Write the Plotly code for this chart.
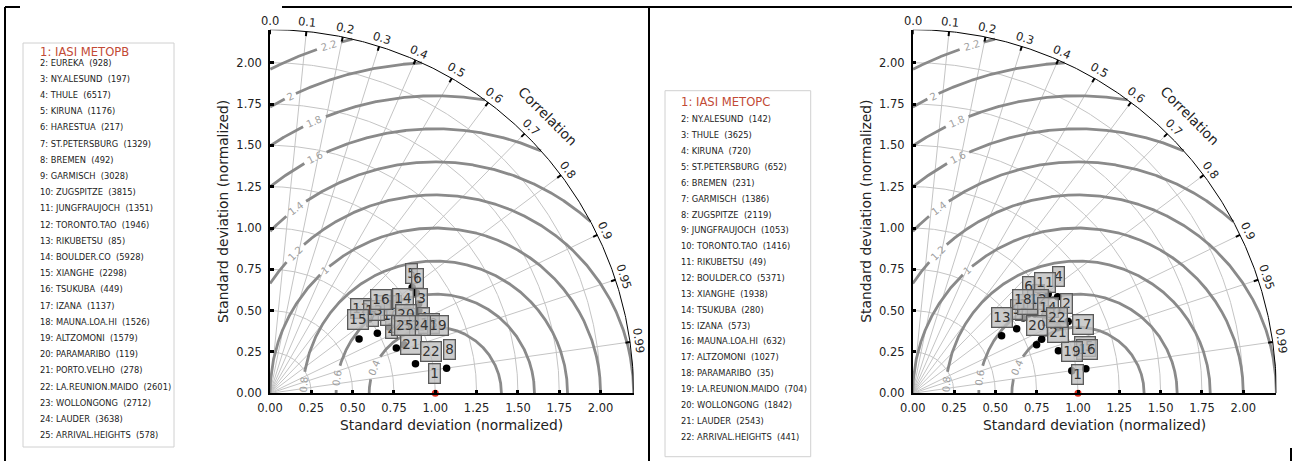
import numpy as np
import plotly.graph_objects as go

W, H = 1292, 461

# ---------------- data ----------------
left_title = "1: IASI METOPB"
left_names = ["EUREKA", "NY.ALESUND", "THULE", "KIRUNA", "HARESTUA", "ST.PETERSBURG", "BREMEN",
              "GARMISCH", "ZUGSPITZE", "JUNGFRAUJOCH", "TORONTO.TAO", "RIKUBETSU", "BOULDER.CO",
              "XIANGHE", "TSUKUBA", "IZANA", "MAUNA.LOA.HI", "ALTZOMONI", "PARAMARIBO",
              "PORTO.VELHO", "LA.REUNION.MAIDO", "WOLLONGONG", "LAUDER", "ARRIVAL.HEIGHTS"]
left_counts = [928, 197, 6517, 1176, 217, 1329, 492, 3028, 3815, 1351, 1946, 85, 5928, 2298,
               449, 1137, 1526, 1579, 119, 278, 2601, 2712, 3638, 578]
# normalized std and correlation, entry 0 = reference (1)
left_std = [1.0, 0.812, 1.050, 0.989, 1.072, 1.073, 0.744, 1.079, 0.893, 0.902, 0.880, 0.750,
            0.797, 0.979, 0.631, 0.844, 1.030, 1.047, 1.053, 0.918, 0.861, 0.898, 0.824, 1.003, 0.877]
left_corr = [1.0, 0.941, 0.857, 0.880, 0.802, 0.825, 0.873, 0.990, 0.829, 0.854, 0.807, 0.800,
             0.778, 0.847, 0.854, 0.806, 0.874, 0.907, 0.927, 0.872, 0.940, 0.980, 0.874, 0.917, 0.890]
# label box placement (offset from the marker, data units)
left_lab_dx = [-0.005, -0.03, 0.019, 0.06, -0.005, 0.009, -0.03, 0.017, 0.02, -0.04, -0.01, -0.047,
               0.01, -0.026, -0.006, -0.006, -0.08, 0.01, 0.039, 0.025, 0.045, 0.095, 0.08, -0.015, 0.034]
left_lab_dy = [0.117, 0.118, 0.031, -0.01, 0.087, 0.091, 0.10, 0.113, 0.03, 0.0, 0.01, 0.065,
               0.0, 0.051, 0.119, 0.065, -0.05, -0.02, 0.014, 0.025, 0.0, 0.074, 0.01, 0.008, 0.008]

right_title = "1: IASI METOPC"
right_names = ["NY.ALESUND", "THULE", "KIRUNA", "ST.PETERSBURG", "BREMEN", "GARMISCH", "ZUGSPITZE",
               "JUNGFRAUJOCH", "TORONTO.TAO", "RIKUBETSU", "BOULDER.CO", "XIANGHE", "TSUKUBA",
               "IZANA", "MAUNA.LOA.HI", "ALTZOMONI", "PARAMARIBO", "LA.REUNION.MAIDO",
               "WOLLONGONG", "LAUDER", "ARRIVAL.HEIGHTS"]
right_counts = [142, 3625, 720, 652, 231, 1386, 2119, 1053, 1416, 49, 5371, 1938, 280, 573, 632,
                1027, 35, 704, 1842, 2543, 441]
right_std = [1.0, 1.030, 0.954, 1.054, 0.882, 0.925, 0.809, 0.935, 0.740, 0.849, 1.016, 0.904,
             0.641, 0.928, 0.972, 1.058, 1.036, 0.867, 0.918, 0.805, 0.846, 0.967]
right_corr = [1.0, 0.874, 0.817, 0.832, 0.839, 0.779, 0.827, 0.888, 0.850, 0.825, 0.807, 0.818,
              0.839, 0.862, 0.990, 0.990, 0.908, 0.813, 0.960, 0.931, 0.922, 0.910]
right_lab_dx = [-0.004, 0.032, -0.02, 0.004, -0.02, -0.02, -0.009, -0.01, 0.0, 0.0, -0.02, 0.02,
                0.004, 0.02, 0.078, 0.005, 0.091, -0.036, 0.081, 0.0, 0.101, -0.005]
right_lab_dy = [0.111, 0.041, 0.05, 0.122, 0.05, 0.066, 0.045, 0.04, 0.115, 0.06, 0.07, 0.045,
                0.112, 0.051, 0.143, 0.115, -0.02, 0.065, -0.006, 0.115, 0.04, 0.055]

corr_ticks = [0.0, 0.1, 0.2, 0.3, 0.4, 0.5, 0.6, 0.7, 0.8, 0.9, 0.95, 0.99]
corr_tick_text = ["0.0", "0.1", "0.2", "0.3", "0.4", "0.5", "0.6", "0.7", "0.8", "0.9", "0.95", "0.99"]
std_ticks = [0.0, 0.25, 0.5, 0.75, 1.0, 1.25, 1.5, 1.75, 2.0]
std_tick_text = ["0.00", "0.25", "0.50", "0.75", "1.00", "1.25", "1.50", "1.75", "2.00"]
rmsd_levels = [0.4, 0.6, 0.8, 1.0, 1.2, 1.4, 1.6, 1.8, 2.0, 2.2]
rmsd_text = ["0.4", "0.6", "0.8", "1", "1.2", "1.4", "1.6", "1.8", "2", "2.2"]
rmsd_label_theta = [157, 171, 176, 132, 135, 127, 117, 114, 116, 107]  # label placement (deg about ref)

# ---------------- layout constants ----------------
RMAX = 2.2
SC = 165.3          # px per unit
Y0 = 393.3          # pixel row of origin
FONT = "DejaVu Sans"

fig = go.Figure()
annotations = []
shapes = []

def px(x):
    return x / W

def py(y):
    return 1 - y / H


def add_panel(sfx, x0, std, corr, ldx, ldy):
    xa = "x" + sfx
    ya = "y" + sfx

    def to_paper(dx, dy):
        return px(x0 + dx * SC), py(Y0 - dy * SC)

    std = np.asarray(std, float)
    corr = np.asarray(corr, float)
    # thin std-dev circles and radial correlation lines
    gx, gy = [], []
    phi = np.linspace(0, np.pi / 2, 300)
    for r in std_ticks[1:]:
        gx += list(r * np.cos(phi)) + [None]
        gy += list(r * np.sin(phi)) + [None]
    for c in corr_ticks[1:]:
        a = np.arccos(c)
        gx += [0, RMAX * np.cos(a), None]
        gy += [0, RMAX * np.sin(a), None]
    fig.add_trace(go.Scatter(x=gx, y=gy, mode="lines", line=dict(color="#c4c4c4", width=1),
                             xaxis=xa, yaxis=ya, hoverinfo="skip", showlegend=False))
    # RMSD contours
    rx, ry = [], []
    fs_r = 10
    for r, t, th_lab in zip(rmsd_levels, rmsd_text, rmsd_label_theta):
        th = np.linspace(0, np.pi, 3000)
        x = 1 + r * np.cos(th)
        y = r * np.sin(th)
        wpx = len(t) * 0.62 * fs_r
        gap = (wpx / 2 + 3) / (SC * r)
        ok = (x >= 0) & (x ** 2 + y ** 2 <= RMAX ** 2) & (np.abs(th - np.radians(th_lab)) > gap)
        prev = False
        for xi, yi, k in zip(x, y, ok):
            if k:
                rx.append(xi); ry.append(yi)
            elif prev:
                rx.append(None); ry.append(None)
            prev = k
        rx.append(None); ry.append(None)
        tl = np.radians(th_lab)
        ax_, ay_ = to_paper(1 + r * np.cos(tl), r * np.sin(tl))
        annotations.append(dict(x=ax_, y=ay_, xref="paper", yref="paper",
                                text=t, showarrow=False, textangle=-(th_lab - 90),
                                font=dict(family=FONT, size=fs_r, color="#a0a0a0"),
                                xanchor="center", yanchor="middle"))
    fig.add_trace(go.Scatter(x=rx, y=ry, mode="lines", line=dict(color="#8a8a8a", width=2.8),
                             xaxis=xa, yaxis=ya, hoverinfo="skip", showlegend=False))
    # outer arc and correlation ticks
    ox = list(RMAX * np.cos(phi))
    oy = list(RMAX * np.sin(phi))
    fig.add_trace(go.Scatter(x=ox, y=oy, mode="lines", line=dict(color="black", width=1),
                             xaxis=xa, yaxis=ya, hoverinfo="skip", showlegend=False))
    tx, ty = [], []
    for c, lab in zip(corr_ticks, corr_tick_text):
        a = np.arccos(c)
        tx += [RMAX * np.cos(a), (RMAX - 0.028) * np.cos(a), None]
        ty += [RMAX * np.sin(a), (RMAX - 0.028) * np.sin(a), None]
        rl = RMAX + 0.055
        ax_, ay_ = to_paper(rl * np.cos(a), rl * np.sin(a))
        annotations.append(dict(x=ax_, y=ay_, xref="paper", yref="paper", text=lab,
                                showarrow=False, textangle=90 - np.degrees(a),
                                font=dict(family=FONT, size=11.5, color="#222"),
                                xanchor="center", yanchor="middle"))
    fig.add_trace(go.Scatter(x=tx, y=ty, mode="lines", line=dict(color="black", width=2),
                             xaxis=xa, yaxis=ya, hoverinfo="skip", showlegend=False))
    ax_, ay_ = to_paper(2.375 * np.cos(np.pi / 4), 2.375 * np.sin(np.pi / 4))
    annotations.append(dict(x=ax_, y=ay_, xref="paper", yref="paper",
                            text="Correlation", showarrow=False, textangle=45,
                            font=dict(family=FONT, size=13.8, color="#222"),
                            xanchor="center", yanchor="middle"))
    # data markers
    xs = std * corr
    ys = std * np.sqrt(np.clip(1 - corr ** 2, 0, None))
    fig.add_trace(go.Scatter(x=xs[1:], y=ys[1:], mode="markers", cliponaxis=False,
                             marker=dict(color="black", size=7.5), xaxis=xa, yaxis=ya,
                             hoverinfo="skip", showlegend=False))
    fig.add_trace(go.Scatter(x=xs[:1], y=ys[:1], mode="markers", cliponaxis=False,
                             marker=dict(color="#e03020", size=7), xaxis=xa, yaxis=ya,
                             hoverinfo="skip", showlegend=False))
    for i in range(len(std)):
        annotations.append(dict(x=xs[i] + ldx[i], y=ys[i] + ldy[i], xref=xa, yref=ya,
                                text=str(i + 1), showarrow=False,
                                font=dict(family=FONT, size=13.5, color="#333"),
                                bgcolor="rgba(190,190,190,0.78)", bordercolor="#5a5a5a",
                                borderwidth=1.3, borderpad=1, xanchor="center", yanchor="middle"))
    # axis titles
    annotations.append(dict(x=px(x0 + SC * 1.1), y=py(425), xref="paper", yref="paper",
                            text="Standard deviation (normalized)", showarrow=False,
                            font=dict(family=FONT, size=13.8, color="#222"),
                            xanchor="center", yanchor="middle"))
    annotations.append(dict(x=px(x0 - 46.5), y=py(Y0 - SC * 1.1), xref="paper", yref="paper",
                            text="Standard deviation (normalized)", showarrow=False, textangle=-90,
                            font=dict(family=FONT, size=13.8, color="#222"),
                            xanchor="center", yanchor="middle"))
    axis_common = dict(range=[0, RMAX], showgrid=False, zeroline=False, showline=True,
                       linecolor="black", linewidth=1.5, ticks="inside", ticklen=4, tickwidth=2.5,
                       tickcolor="black", tickvals=std_ticks, ticktext=std_tick_text,
                       tickfont=dict(family=FONT, size=11.5, color="#222"), automargin=False,
                       fixedrange=True)
    fig.layout["xaxis" + sfx] = dict(axis_common, domain=[px(x0), px(x0 + RMAX * SC)],
                                     anchor="y" + sfx, ticklabelstandoff=3)
    fig.layout["yaxis" + sfx] = dict(axis_common, domain=[py(Y0), py(Y0 - RMAX * SC)],
                                     anchor="x" + sfx, ticklabelstandoff=4)


def add_legend(box, title, names, counts, title_y, y_first, step, text_x):
    x0, y0, x1, y1 = box
    shapes.append(dict(type="rect", xref="paper", yref="paper", x0=px(x0), x1=px(x1),
                       y0=py(y1), y1=py(y0), line=dict(color="#d0d0d0", width=1),
                       fillcolor="white", layer="below"))
    annotations.append(dict(x=px(text_x), y=py(title_y), xref="paper", yref="paper", text=title,
                            showarrow=False, xanchor="left", yanchor="middle",
                            font=dict(family=FONT, size=11.6, color="#c24a35")))
    for k, (n, c) in enumerate(zip(names, counts)):
        annotations.append(dict(x=px(text_x), y=py(y_first + k * step), xref="paper", yref="paper",
                                text=f"{k + 2}: {n}  ({c})", showarrow=False, xanchor="left",
                                yanchor="middle", font=dict(family=FONT, size=8.3, color="#222")))


add_panel("", 270.0, left_std, left_corr, left_lab_dx, left_lab_dy)
add_panel("2", 912.7, right_std, right_corr, right_lab_dx, right_lab_dy)
add_legend((23, 43, 174, 447), left_title, left_names, left_counts, 52, 62.5, 16.2, 37.7)
add_legend((665, 90.7, 810.7, 456.7), right_title, right_names, right_counts, 101.7, 119.3, 15.87, 679)

# panel frame lines
for (xa0, ya0, xa1, ya1) in [(5, 7, 20, 7), (282, 7, 1292, 7), (5, 7, 5, 461), (649, 7, 649, 461),
                             (1291, 448, 1291, 461)]:
    shapes.append(dict(type="line", xref="paper", yref="paper", x0=px(xa0), x1=px(xa1),
                       y0=py(ya0), y1=py(ya1), line=dict(color="black", width=2)))

fig.update_layout(width=W, height=H, margin=dict(l=0, r=0, t=0, b=0),
                  paper_bgcolor="white", plot_bgcolor="rgba(0,0,0,0)",
                  showlegend=False, hovermode=False,
                  annotations=annotations, shapes=shapes)
fig.write_html("out.html", config={"displayModeBar": False},
               post_script="document.body.style.margin='0px';")
